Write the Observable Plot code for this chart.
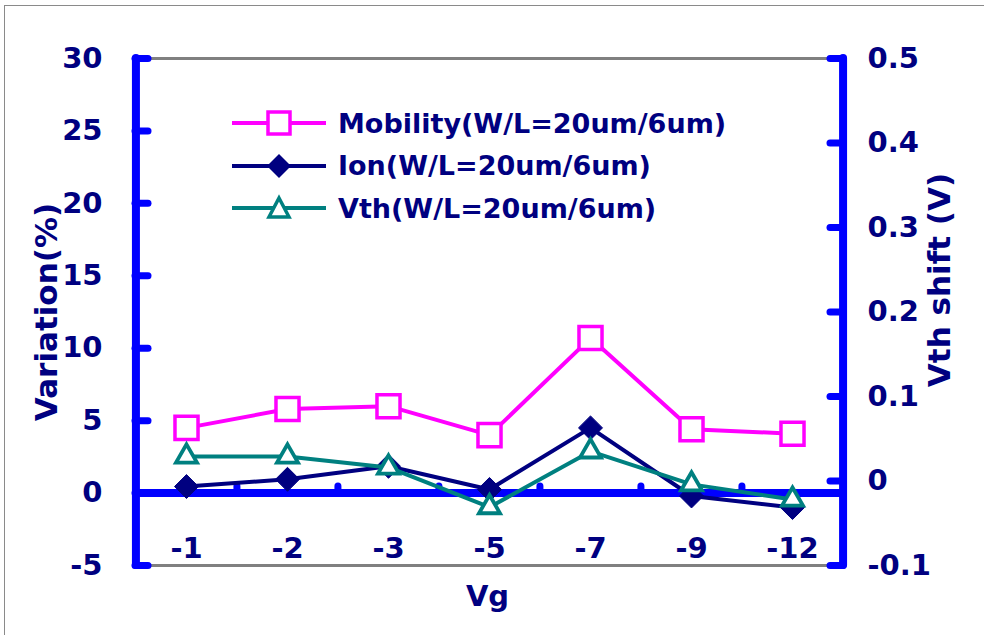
<!DOCTYPE html>
<html>
<head>
<meta charset="utf-8">
<script src="https://cdn.jsdelivr.net/npm/d3@7"></script>
<script src="https://cdn.jsdelivr.net/npm/@observablehq/plot@0.6"></script>
<style>
  html, body { margin: 0; padding: 0; background: #fff; overflow: hidden; }
  #wrap { position: relative; width: 984px; height: 635px; overflow: hidden; background: #fff; }
  #border { position: absolute; left: 4px; top: 5px; width: 1000px; height: 700px; border: 1.5px solid #8a8a8a; box-sizing: border-box; }
  #chart { position: absolute; left: 0; top: 0; }
  #legend { position: absolute; left: 230px; top: 102px; font-family: "DejaVu Sans", sans-serif; font-weight: bold; font-size: 27px; color: #000080; }
  .row { display: flex; align-items: center; height: 42.5px; }
  .row svg { margin-right: 10px; }
</style>
</head>
<body>
<div id="wrap">
  <div id="border"></div>
  <div id="chart"></div>
  <div id="legend"></div>
</div>
<script>
// ---- data ----
const vg = ["-1", "-2", "-3", "-5", "-7", "-9", "-12"];
const mobility = [4.5, 5.8, 6.0, 4.0, 10.7, 4.4, 4.1];       // Variation (%)
const ion = [0.45, 0.95, 1.85, 0.25, 4.5, -0.2, -1.0];         // Variation (%)
const vthShift = [0.029, 0.029, 0.016, -0.031, 0.035, -0.004, -0.022]; // V (right axis)
const leftTicks = [-5, 0, 5, 10, 15, 20, 25, 30];
const rightTicks = [-0.1, 0, 0.1, 0.2, 0.3, 0.4, 0.5];
const seriesNames = ["Mobility(W/L=20um/6um)", "Ion(W/L=20um/6um)", "Vth(W/L=20um/6um)"];

// ---- styling ----
const W = 984, H = 635;
const mL = 135, mR = 141, mT = 58, mB = 70;
const plotW = W - mL - mR;
const step = plotW / vg.length;
const navy = "#000080", blue = "#0000FF", magenta = "#FF00FF", teal = "#008080", gray = "#808080";
const lMin = -5, lMax = 30, rMin = -0.1, rMax = 0.5;
const toLeft = v => (v - rMin) / (rMax - rMin) * (lMax - lMin) + lMin;
const fromLeft = d => (d - lMin) / (lMax - lMin) * (rMax - rMin) + rMin;

const mobData = vg.map((g, i) => ({g, v: mobility[i]}));
const ionData = vg.map((g, i) => ({g, v: ion[i]}));
const vthData = vg.map((g, i) => ({g, v: toLeft(vthShift[i])}));

const chart = Plot.plot({
  width: W, height: H,
  marginLeft: mL, marginRight: mR, marginTop: mT, marginBottom: mB,
  style: {fontFamily: "'DejaVu Sans', sans-serif", fontWeight: "bold", fontSize: "29px", color: navy, background: "transparent", overflow: "visible"},
  x: {type: "point", domain: vg, padding: 0.5, axis: null},
  y: {domain: [lMin, lMax], axis: null},
  marks: [
    // gray top/bottom frame lines
    Plot.ruleY([lMin, lMax], {stroke: gray, strokeWidth: 3}),
    // zero line
    Plot.ruleY([0], {stroke: blue, strokeWidth: 8}),
    // category boundary ticks on the zero line
    Plot.ruleX(vg.slice(1), {x: d => d, y1: 0, y2: 0.45, dx: -step / 2, stroke: blue, strokeWidth: 7, strokeLinecap: "round"}),
    // left and right axis lines
    Plot.ruleX([vg[0]], {x: d => d, y1: lMin, y2: lMax, dx: -step / 2, stroke: blue, strokeWidth: 8, strokeLinecap: "round"}),
    Plot.ruleX([vg[vg.length - 1]], {x: d => d, y1: lMin, y2: lMax, dx: step / 2, stroke: blue, strokeWidth: 8, strokeLinecap: "round"}),
    // inward tick marks
    Plot.tickY(leftTicks, {y: d => d, insetRight: plotW - 13, stroke: blue, strokeWidth: 7, strokeLinecap: "round"}),
    Plot.tickY(rightTicks.map(toLeft), {y: d => d, insetLeft: plotW - 13, stroke: blue, strokeWidth: 7, strokeLinecap: "round"}),
    // tick labels
    Plot.axisY(leftTicks, {anchor: "left", label: null, tickSize: 0, tickPadding: 33, color: navy, tickFormat: d => String(d)}),
    Plot.axisY(rightTicks.map(toLeft), {anchor: "right", label: null, tickSize: 0, tickPadding: 24, color: navy,
      tickFormat: d => String(Math.round(fromLeft(d) * 10) / 10)}),
    Plot.text(vg, {x: d => d, y: () => lMin, dy: -17, text: d => d, fill: navy}),
    // series
    Plot.line(mobData, {x: "g", y: "v", stroke: magenta, strokeWidth: 4}),
    Plot.dot(mobData, {x: "g", y: "v", symbol: "square", r: 13, stroke: magenta, strokeWidth: 3.5, fill: "white"}),
    Plot.line(ionData, {x: "g", y: "v", stroke: navy, strokeWidth: 4}),
    Plot.dot(ionData, {x: "g", y: "v", symbol: "diamond2", r: 10.8, fill: navy, stroke: navy, strokeWidth: 1}),
    Plot.line(vthData, {x: "g", y: "v", stroke: teal, strokeWidth: 4}),
    Plot.dot(vthData, {x: "g", y: "v", symbol: "triangle", r: 7.8, stroke: teal, strokeWidth: 3.8, fill: "white"}),
    // axis titles
    Plot.text(["Variation(%)"], {frameAnchor: "left", textAnchor: "middle", dx: -88, rotate: -90, fontSize: 31, fill: navy}),
    Plot.text(["Vth shift (V)"], {frameAnchor: "right", textAnchor: "middle", dx: 97, dy: -32, rotate: -90, fontSize: 31, fill: navy}),
    Plot.text(["Vg"], {frameAnchor: "bottom", dx: -2, dy: 40, fontSize: 29, fill: navy})
  ]
});
document.getElementById("chart").appendChild(chart);

// ---- legend ----
const swatch = [
  `<line x1="2" y1="15" x2="96" y2="15" stroke="${magenta}" stroke-width="4"/><rect x="38" y="4" width="22" height="22" fill="white" stroke="${magenta}" stroke-width="3.5"/>`,
  `<line x1="2" y1="15" x2="96" y2="15" stroke="${navy}" stroke-width="4"/><path d="M49 3 L61 15 L49 27 L37 15 Z" fill="${navy}"/>`,
  `<line x1="2" y1="15" x2="96" y2="15" stroke="${teal}" stroke-width="4"/><path d="M49 5 L59 24 L39 24 Z" fill="white" stroke="${teal}" stroke-width="3.5"/>`
];
const legend = document.getElementById("legend");
seriesNames.forEach((name, i) => {
  const row = document.createElement("div");
  row.className = "row";
  row.innerHTML = `<svg width="98" height="30">${swatch[i]}</svg><span>${name}</span>`;
  legend.appendChild(row);
});
</script>
</body>
</html>
